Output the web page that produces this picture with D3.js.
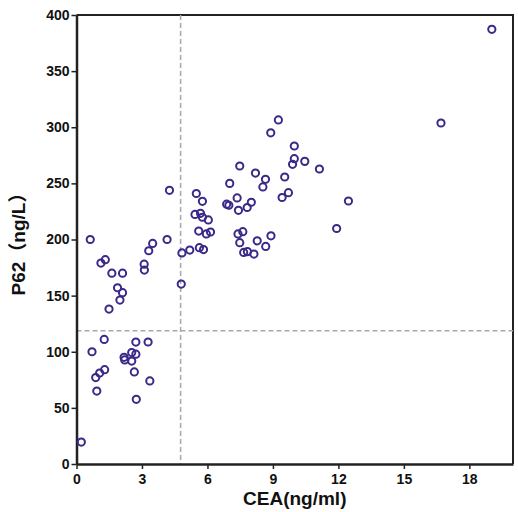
<!DOCTYPE html>
<html>
<head>
<meta charset="utf-8">
<script src="https://cdn.jsdelivr.net/npm/d3@7"></script>
<style>
  body { margin: 0; background: #fff; }
  text { font-family: "Liberation Sans", Arial, "Noto Sans CJK SC", sans-serif; font-weight: bold; fill: #111; }
</style>
</head>
<body>
<div id="chart"></div>
<script>
// CEA (ng/ml) vs P62 (ng/L)
var cea = [0.22, 0.63, 0.71, 0.88, 0.93, 1.06, 1.12, 1.27, 1.29, 1.32,
    1.49, 1.62, 1.88, 1.99, 2.11, 2.11, 2.18, 2.21, 2.53, 2.53,
    2.65, 2.72, 2.72, 2.74, 3.10, 3.11, 3.28, 3.31, 3.36, 3.49,
    4.15, 4.26, 4.80, 4.83, 5.19, 5.43, 5.49, 5.60, 5.63, 5.68,
    5.77, 5.77, 5.82, 5.95, 6.04, 6.14, 6.88, 6.98, 7.02, 7.36,
    7.40, 7.42, 7.48, 7.48, 7.62, 7.66, 7.82, 7.83, 8.01, 8.13,
    8.20, 8.28, 8.54, 8.66, 8.67, 8.90, 8.91, 9.25, 9.42, 9.54,
    9.71, 9.90, 9.98, 9.98, 10.46, 11.13, 11.92, 12.46, 16.70, 19.03];
var p62 = [19.5, 200, 100, 77, 65, 81, 179, 111, 84, 182,
    138, 170, 157, 146, 152.6, 170, 95, 92.7, 99.3, 91.7,
    82, 108.6, 97.8, 57.6, 178, 172.8, 108.7, 190, 74, 196.5,
    200, 243.8, 160.3, 188, 190.6, 222.3, 241, 207.5, 192.7, 223.3,
    234, 219.8, 191, 205, 217.4, 206.7, 231.5, 230.5, 250, 237,
    205, 226, 197.2, 265.5, 207, 188.5, 228.5, 189.2, 233.2, 187,
    259.2, 198.8, 246.8, 253.6, 193.8, 295, 203.3, 306.5, 237.4, 255.7,
    241.7, 267, 272, 283.3, 269.6, 262.8, 209.8, 234.3, 303.8, 387.2];
var xTicks = [0, 3, 6, 9, 12, 15, 18];
var yTicks = [0, 50, 100, 150, 200, 250, 300, 350, 400];
var ceaCut = 4.77;   // vertical reference line
var p62Cut = 118.8;  // horizontal reference line

var width = 518, height = 512;
var margin = {top: 15, right: 5, bottom: 48, left: 76.5};

var svg = d3.select("#chart").append("svg")
    .attr("width", width)
    .attr("height", height);

var x = d3.scaleLinear().domain([0, 20]).range([margin.left, width - margin.right]);
var y = d3.scaleLinear().domain([0, 400]).range([height - margin.bottom, margin.top]);

// frame (top and right)
svg.append("path")
    .attr("d", "M" + x(0) + "," + y(400) + "H" + x(20) + "V" + y(0))
    .attr("fill", "none")
    .attr("stroke", "#222")
    .attr("stroke-width", 2);

// cut-off lines
svg.append("line")
    .attr("x1", x(ceaCut)).attr("x2", x(ceaCut))
    .attr("y1", y(400)).attr("y2", y(0))
    .attr("stroke", "#a8a8a8").attr("stroke-width", 1.5)
    .attr("stroke-dasharray", "5,3");
svg.append("line")
    .attr("x1", x(0)).attr("x2", x(20))
    .attr("y1", y(p62Cut)).attr("y2", y(p62Cut))
    .attr("stroke", "#a8a8a8").attr("stroke-width", 1.5)
    .attr("stroke-dasharray", "5,3");

var xAxis = svg.append("g")
    .attr("transform", "translate(0," + y(0) + ")")
    .call(d3.axisBottom(x).tickValues(xTicks).tickSize(5).tickSizeOuter(0));
var yAxis = svg.append("g")
    .attr("transform", "translate(" + x(0) + ",0)")
    .call(d3.axisLeft(y).tickValues(yTicks).tickSize(5).tickSizeOuter(0));

[xAxis, yAxis].forEach(function(a) {
    a.select(".domain").attr("stroke", "#222").attr("stroke-width", 2.5);
    a.selectAll(".tick line").attr("stroke", "#222").attr("stroke-width", 1.5);
    a.selectAll(".tick text")
        .style("font-size", "14px")
        .style("font-weight", "bold")
        .style("font-family", "'Liberation Sans', Arial, sans-serif")
        .attr("fill", "#111");
});
xAxis.selectAll(".tick text").attr("dy", "0.85em");
yAxis.selectAll(".tick text").attr("x", -7);

// points
svg.append("g").selectAll("circle")
    .data(cea.map(function(d, i) { return [d, p62[i]]; }))
    .join("circle")
    .attr("cx", function(d) { return x(d[0]); })
    .attr("cy", function(d) { return y(d[1]); })
    .attr("r", 3.6)
    .attr("fill", "none")
    .attr("stroke", "#3b2889")
    .attr("stroke-width", 2);

// axis titles
svg.append("text")
    .attr("x", (x(0) + x(20)) / 2)
    .attr("y", 505)
    .attr("text-anchor", "middle")
    .style("font-size", "19px")
    .text("CEA(ng/ml)");

svg.append("text")
    .attr("transform", "translate(25," + y(200) + ") rotate(-90)")
    .attr("text-anchor", "middle")
    .style("font-size", "19px")
    .text("P62（ng/L）");
</script>
</body>
</html>
